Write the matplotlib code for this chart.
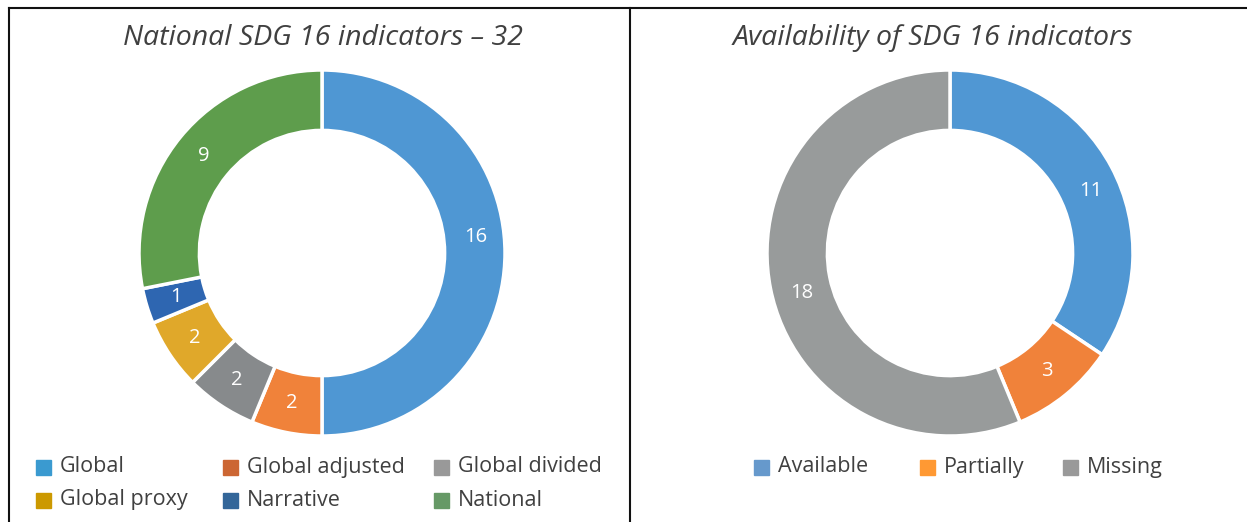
import matplotlib
matplotlib.use("Agg")
import matplotlib.pyplot as plt
from matplotlib.patches import Rectangle
from matplotlib.lines import Line2D

plt.rcParams['font.family'] = ['Open Sans', 'DejaVu Sans']

W, H = 1247, 522

# Data
left_title = "National SDG 16 indicators – 32"
left_labels = ["Global", "Global adjusted", "Global divided", "Global proxy", "Narrative", "National"]
left_values = [16, 2, 2, 2, 1, 9]
left_colors = ["#4f97d3", "#f0823a", "#878a8c", "#e0a82a", "#2e66b1", "#5e9d4c"]
left_legend_colors = ["#3a9ad0", "#cc6633", "#999999", "#cc9900", "#336699", "#669966"]

right_title = "Availability of SDG 16 indicators"
right_labels = ["Available", "Partially", "Missing"]
right_values = [11, 3, 18]
right_colors = ["#5097d3", "#f0823a", "#989b9b"]
right_legend_colors = ["#6699cc", "#ff9933", "#999999"]

fig = plt.figure(figsize=(W / 100, H / 100), dpi=100)


def fx(x):
    return x / W


def fy(y):
    return 1 - y / H


def donut(cx, cy, r, values, colors, nudges=None):
    ax = fig.add_axes([fx(cx - r), fy(cy + r), 2 * r / W, 2 * r / H])
    total = sum(values)
    wedges, texts, autotexts = ax.pie(
        values, colors=colors, startangle=90, counterclock=False,
        radius=1, wedgeprops=dict(width=0.33, edgecolor="white", linewidth=2.5),
        autopct=lambda p: "%d" % round(p * total / 100), pctdistance=0.835,
        textprops=dict(color="white", fontsize=14.5))
    # Excel moved a few labels off the slice middle
    if nudges:
        for i, (dx, dy) in nudges.items():
            x, y = autotexts[i].get_position()
            autotexts[i].set_position((x + dx / r, y - dy / r))
    ax.set_xlim(-1, 1)
    ax.set_ylim(-1, 1)
    ax.set_aspect("equal")
    ax.axis("off")
    return ax


donut(322, 253, 183, left_values, left_colors, {0: (1, -16)})
donut(950, 253, 183, right_values, right_colors, {0: (6, 10), 2: (2, 10)})

# titles
fig.text(fx(323), fy(38), left_title, ha="center", va="center", fontsize=20.5,
         style="italic", color="#404040")
fig.text(fx(933), fy(38), right_title, ha="center", va="center", fontsize=20.5,
         style="italic", color="#404040")


def legend_item(x, y, color, label):
    fig.add_artist(Rectangle((fx(x), fy(y + 7.5)), 15 / W, 15 / H, color=color,
                             transform=fig.transFigure))
    fig.text(fx(x + 24), fy(y), label, ha="left", va="center", fontsize=15.5, color="#404040")


left_cols = [36, 223, 434]
left_rows = [467, 500]
for i, (lab, col) in enumerate(zip(left_labels, left_legend_colors)):
    legend_item(left_cols[i % 3], left_rows[i // 3], col, lab)

right_cols = [754, 920, 1063]
for i, (lab, col) in enumerate(zip(right_labels, right_legend_colors)):
    legend_item(right_cols[i], 467, col, lab)

# panel borders
for xs, ys in [([9, W], [8, 8]), ([9, 9], [8, H]), ([630, 630], [8, H])]:
    fig.add_artist(Line2D([fx(x) for x in xs], [fy(y) for y in ys], color="#111111",
                          linewidth=1.5, transform=fig.transFigure))

fig.savefig("out.png", dpi=100)
